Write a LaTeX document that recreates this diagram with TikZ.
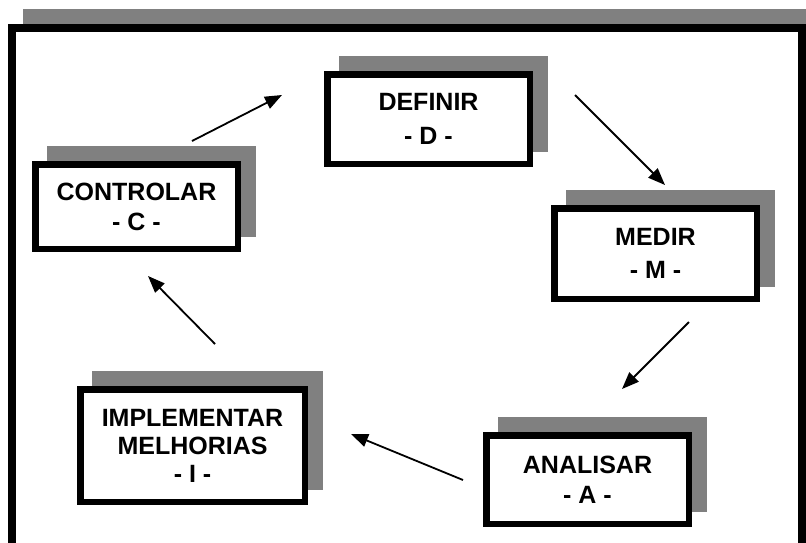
\documentclass[tikz,border=0pt]{standalone}
\usepackage{fontspec}
\setmainfont{Liberation Sans}
\usetikzlibrary{arrows.meta}
\definecolor{shadowgray}{RGB}{128,128,128}
\pgfdeclarelayer{background}
\pgfdeclarelayer{shadow}
\pgfsetlayers{background,shadow,main}
% gray block behind a stage box, same size, pushed right and up
\newcommand\stageshadow[1]{%
  \fill[shadowgray] ([shift={(15,-15)}]#1.south west) rectangle ([shift={(15,-15)}]#1.north east);}

\begin{document}
\begin{tikzpicture}[x=1pt,y=-1pt,
  stage/.style={draw, fill=white, line width=6.5pt, align=center, inner sep=0pt,
    font=\fontsize{25pt}{28pt}\selectfont\bfseries},
  flow/.style={line width=1.8pt, -{Triangle[length=17pt,width=13pt]}}]
\useasboundingbox (0,0) rectangle (806,542);

% the five DMAIC stages
\node[stage, minimum width=202.5pt, minimum height=89.5pt] (D) at (428.5,119) {DEFINIR\\[6pt]- D -};
\node[stage, minimum width=202.5pt, minimum height=90.5pt] (M) at (655.5,253.5) {MEDIR\\[5pt]- M -};
\node[stage, minimum width=202.5pt, minimum height=88.5pt] (A) at (587.5,479.5) {ANALISAR\\[2pt]- A -};
\node[stage, minimum width=224.5pt, minimum height=112.5pt] (I) at (192.5,445.5) {IMPLEMENTAR\\MELHORIAS\\- I -};
\node[stage, minimum width=202.5pt, minimum height=84.5pt] (C) at (136.5,206.5) {CONTROLAR\\[2pt]- C -};

% arrow ends of the cycle
\coordinate (cd1) at (192,141); \coordinate (cd2) at (282,95);
\coordinate (dm1) at (575,95);  \coordinate (dm2) at (665,185);
\coordinate (ma1) at (689,322); \coordinate (ma2) at (622,389);
\coordinate (ai1) at (463,480); \coordinate (ai2) at (351,434);
\coordinate (ic1) at (215,344); \coordinate (ic2) at (148,276);

\draw[flow] (cd1) -- (cd2);
\draw[flow] (dm1) -- (dm2);
\draw[flow] (ma1) -- (ma2);
\draw[flow] (ai1) -- (ai2);
\draw[flow] (ic1) -- (ic2);

% outer frame with its shadow
\begin{pgfonlayer}{background}
  \clip (0,0) rectangle (806,542);
  \fill[shadowgray] (23,9) rectangle (840,580);
  \draw[line width=8pt, fill=white] (12,28) rectangle (802,580);
\end{pgfonlayer}

\begin{pgfonlayer}{shadow}
  \stageshadow{D}
  \stageshadow{M}
  \stageshadow{A}
  \stageshadow{I}
  \stageshadow{C}
\end{pgfonlayer}
\end{tikzpicture}
\end{document}
